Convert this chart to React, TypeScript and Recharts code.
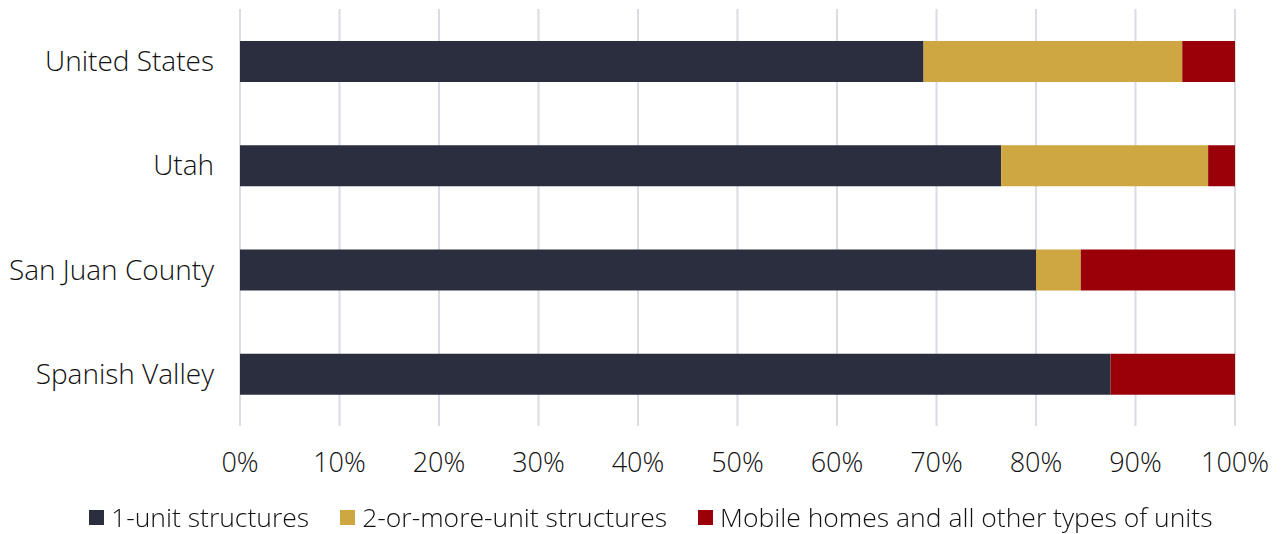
import { Bar, BarChart, CartesianGrid, Legend, XAxis, YAxis } from "recharts";

const CATEGORIES = ["United States", "Utah", "San Juan County", "Spanish Valley"];
const ONE_UNIT = [68.7, 76.5, 80.0, 87.5];
const TWO_PLUS = [26.0, 20.8, 4.5, 0];
const MOBILE = [5.3, 2.7, 15.5, 12.5];
const X_TICKS = [0, 10, 20, 30, 40, 50, 60, 70, 80, 90, 100];

const SERIES = [
  { key: "oneUnit", name: "1-unit structures", color: "#2b2e3f" },
  { key: "twoPlus", name: "2-or-more-unit structures", color: "#cea642" },
  { key: "mobile", name: "Mobile homes and all other types of units", color: "#990008" },
];

const DATA = CATEGORIES.map((name, i) => ({
  name,
  oneUnit: ONE_UNIT[i],
  twoPlus: TWO_PLUS[i],
  mobile: MOBILE[i],
}));

const FONT = "'Open Sans', Lato, sans-serif";
const TEXT = "#111111";

function LegendRow({ payload }: any) {
  return (
    <div style={{ display: "flex", justifyContent: "flex-start", paddingLeft: 89, height: 30, alignItems: "center", fontFamily: FONT, fontSize: 26.5, fontWeight: 300, color: TEXT }}>
      {(payload || []).map((p: any, i: number) => (
        <div key={p.value} style={{ display: "flex", alignItems: "center", marginLeft: i ? 31 : 0 }}>
          <span style={{ width: 15, height: 15, background: p.color, display: "inline-block", marginRight: 7 }} />
          <span>{p.value}</span>
        </div>
      ))}
    </div>
  );
}

export default function App() {
  return (
    <div style={{ position: "fixed", left: 0, top: 0, width: 1283, height: 534, background: "#fff" }}>
      <BarChart
        width={1283}
        height={534}
        data={DATA}
        layout="vertical"
        barSize={41}
        margin={{ top: 9, right: 48, left: 0, bottom: 2 }}
      >
        <CartesianGrid horizontal={false} stroke="#d9dbe5" strokeWidth={2} />
        <XAxis
          type="number"
          domain={[0, 100]}
          ticks={X_TICKS}
          tickFormatter={(v: number) => `${v}%`}
          axisLine={false}
          tickLine={false}
          height={76}
          tickMargin={21}
          tick={{ fontSize: 27, fill: TEXT, fontFamily: FONT, fontWeight: 300 }}
        />
        <YAxis
          dataKey="name"
          type="category"
          width={240}
          axisLine={false}
          tickLine={false}
          tickMargin={20}
          tick={{ fontSize: 28, fill: TEXT, fontFamily: FONT, fontWeight: 300 }}
        />
        <Legend verticalAlign="bottom" wrapperStyle={{ left: 0, width: 1283 }} content={<LegendRow />} />
        {SERIES.map((s) => (
          <Bar key={s.key} dataKey={s.key} name={s.name} stackId="a" fill={s.color} isAnimationActive={false} />
        ))}
      </BarChart>
    </div>
  );
}
